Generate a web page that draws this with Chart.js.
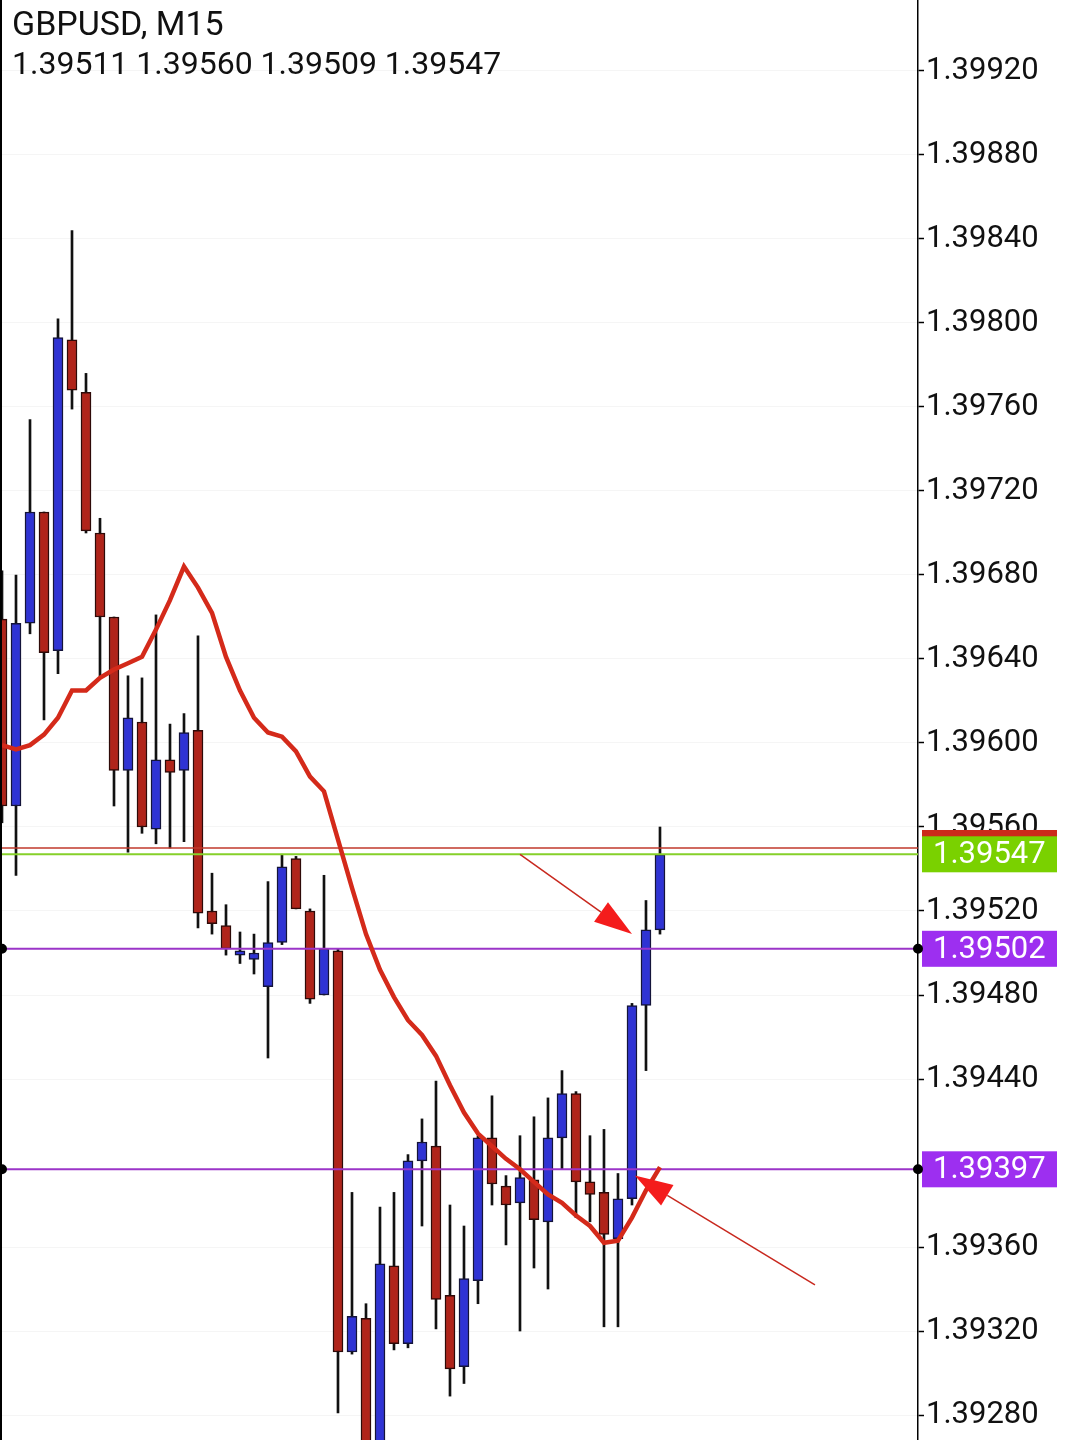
<!DOCTYPE html>
<html>
<head>
<meta charset="utf-8">
<script src="https://cdn.jsdelivr.net/npm/chart.js@4.4.0/dist/chart.umd.min.js"></script>
<style>
  html, body { margin: 0; padding: 0; background: #fff; }
</style>
</head>
<body>
<canvas id="myChart" width="1080" height="1440"></canvas>
<script>
// GBPUSD M15 candles, oldest first
var opens  = [1.39659, 1.39570, 1.39657, 1.39710, 1.39644, 1.39792, 1.39767, 1.39700, 1.39660, 1.39587,
              1.39610, 1.39559, 1.39592, 1.39587, 1.39606, 1.39520, 1.39513, 1.39499, 1.39497, 1.39484,
              1.39505, 1.39545, 1.39520, 1.39480, 1.39501, 1.39310, 1.39326, 1.39250, 1.39351, 1.39314,
              1.39401, 1.39408, 1.39337, 1.39303, 1.39344, 1.39412, 1.39389, 1.39381, 1.39392, 1.39372,
              1.39412, 1.39433, 1.39391, 1.39386, 1.39364, 1.39383, 1.39475, 1.39511];
var highs  = [1.39682, 1.39680, 1.39754, 1.39710, 1.39802, 1.39844, 1.39776, 1.39707, 1.39660, 1.39632,
              1.39631, 1.39661, 1.39609, 1.39614, 1.39651, 1.39538, 1.39523, 1.39510, 1.39509, 1.39534,
              1.39547, 1.39546, 1.39521, 1.39537, 1.39502, 1.39386, 1.39333, 1.39379, 1.39386, 1.39404,
              1.39421, 1.39439, 1.39380, 1.39370, 1.39413, 1.39432, 1.39394, 1.39413, 1.39422, 1.39431,
              1.39444, 1.39434, 1.39413, 1.39416, 1.39395, 1.39476, 1.39525, 1.39560];
var lows   = [1.39562, 1.39537, 1.39652, 1.39611, 1.39633, 1.39759, 1.39700, 1.39632, 1.39570, 1.39548,
              1.39557, 1.39552, 1.39550, 1.39553, 1.39512, 1.39509, 1.39499, 1.39495, 1.39490, 1.39450,
              1.39504, 1.39521, 1.39476, 1.39480, 1.39281, 1.39309, 1.39245, 1.39240, 1.39311, 1.39312,
              1.39370, 1.39321, 1.39289, 1.39295, 1.39333, 1.39380, 1.39361, 1.39320, 1.39350, 1.39340,
              1.39397, 1.39374, 1.39372, 1.39322, 1.39322, 1.39380, 1.39444, 1.39509];
var closes = [1.39570, 1.39657, 1.39710, 1.39643, 1.39793, 1.39768, 1.39701, 1.39660, 1.39587, 1.39612,
              1.39560, 1.39592, 1.39586, 1.39605, 1.39519, 1.39514, 1.39502, 1.39501, 1.39500, 1.39505,
              1.39541, 1.39521, 1.39478, 1.39502, 1.39310, 1.39327, 1.39255, 1.39352, 1.39314, 1.39401,
              1.39410, 1.39335, 1.39302, 1.39345, 1.39412, 1.39390, 1.39380, 1.39393, 1.39373, 1.39412,
              1.39433, 1.39391, 1.39385, 1.39366, 1.39383, 1.39475, 1.39511, 1.39547];

// moving average (red line)
var maValues = [1.39599, 1.39597, 1.39599, 1.39604, 1.39612, 1.39625, 1.39625, 1.39631, 1.39635, 1.39638,
                1.39641, 1.39654, 1.39668, 1.39684, 1.39674, 1.39662, 1.39641, 1.39625, 1.39612, 1.39605,
                1.39603, 1.39596, 1.39584, 1.39577, 1.39554, 1.39531, 1.39509, 1.39492, 1.39479, 1.39468,
                1.39461, 1.39451, 1.39437, 1.39424, 1.39414, 1.39408, 1.39402, 1.39397, 1.39391, 1.39385,
                1.39381, 1.39375, 1.39370, 1.39362, 1.39363, 1.39374, 1.39387, 1.39398];

// horizontal levels: ask, bid, two drawn levels
var levelPrices = [1.39550, 1.39547, 1.39502, 1.39397];
var levelColors = ["#c0392b", "#86d02a", "#9b35c8", "#9b35c8"];
var tagColors   = ["#cc2a1a", "#7ad100", "#9d2ff0", "#9d2ff0"];
var tagTexts    = ["", "1.39547", "1.39502", "1.39397"];
var levelDots   = [false, false, true, true];

// arrows [candle index, price]
var arrowStarts = [[37, 1.39547], [58.07, 1.39342]];
var arrowEnds   = [[45.0, 1.39509], [45.2, 1.39394]];

// 1.39400 is hidden under the 1.39397 tag
var tickValues = [1.39280, 1.39320, 1.39360, 1.39440, 1.39480, 1.39520, 1.39560,
                  1.39600, 1.39640, 1.39680, 1.39720, 1.39760, 1.39800, 1.39840, 1.39880, 1.39920];

var headerLines = ["GBPUSD, M15", "1.39511 1.39560 1.39509 1.39547"];

var xMin = -0.143, xMax = 65.43;
var yMin = 1.392681, yMax = 1.399538;

var wickData = [], bodyData = [], bodyColors = [], bodyBorders = [], maData = [];
for (var i = 0; i < opens.length; i++) {
    wickData.push({x: i, y: [lows[i], highs[i]]});
    bodyData.push({x: i, y: [Math.min(opens[i], closes[i]), Math.max(opens[i], closes[i])]});
    var up = closes[i] >= opens[i];
    bodyColors.push(up ? "#2f33d4" : "#b0241a");
    bodyBorders.push(up ? "#14143a" : "#2e0a08");
    maData.push({x: i, y: maValues[i]});
}

var datasets = [
    {
        type: "line",
        data: maData,
        borderColor: "#d42a1a",
        borderWidth: 4.5,
        pointRadius: 0,
        tension: 0,
        order: 0
    }
];
levelPrices.forEach(function (p, k) {
    datasets.push({
        type: "line",
        data: [{x: xMin, y: p}, {x: xMax, y: p}],
        borderColor: levelColors[k],
        borderWidth: k == 0 ? 1.5 : 2,
        pointRadius: 0,
        order: 1
    });
});
datasets.push({
    type: "bar",
    data: bodyData,
    backgroundColor: bodyColors,
    borderColor: bodyBorders,
    borderWidth: 1.5,
    borderSkipped: false,
    barThickness: 10,
    grouped: false,
    order: 2
});
datasets.push({
    type: "bar",
    data: wickData,
    backgroundColor: "#111111",
    borderWidth: 0,
    barThickness: 2,
    grouped: false,
    order: 3
});

function drawArrow(ctx, x1, y1, x2, y2) {
    var ang = Math.atan2(y2 - y1, x2 - x1);
    var headLen = 38, headHalf = 12;
    var bx = x2 - headLen * Math.cos(ang), by = y2 - headLen * Math.sin(ang);
    ctx.strokeStyle = "#c8281e";
    ctx.lineWidth = 1.5;
    ctx.beginPath();
    ctx.moveTo(x1, y1);
    ctx.lineTo(bx, by);
    ctx.stroke();
    ctx.fillStyle = "#f41c1c";
    ctx.beginPath();
    ctx.moveTo(x2, y2);
    ctx.lineTo(bx + headHalf * Math.sin(ang), by - headHalf * Math.cos(ang));
    ctx.lineTo(bx - headHalf * Math.sin(ang), by + headHalf * Math.cos(ang));
    ctx.closePath();
    ctx.fill();
}

var overlay = {
    id: "overlay",
    afterDraw: function (chart) {
        var ctx = chart.ctx, xs = chart.scales.x, ys = chart.scales.y, area = chart.chartArea;
        ctx.save();

        // left border
        ctx.fillStyle = "#000";
        ctx.fillRect(0, 0, 2, chart.height);

        // arrows
        for (var a = 0; a < arrowStarts.length; a++) {
            drawArrow(ctx,
                xs.getPixelForValue(arrowStarts[a][0]), ys.getPixelForValue(arrowStarts[a][1]),
                xs.getPixelForValue(arrowEnds[a][0]), ys.getPixelForValue(arrowEnds[a][1]));
        }

        // price tags on the axis
        ctx.font = "31px Roboto";
        ctx.textBaseline = "middle";
        ctx.textAlign = "left";
        levelPrices.forEach(function (p, k) {
            var y = ys.getPixelForValue(p);
            ctx.fillStyle = tagColors[k];
            ctx.fillRect(area.right + 4, y - 18, 135, 36);
            if (tagTexts[k]) {
                ctx.fillStyle = "#fff";
                ctx.fillText(tagTexts[k], area.right + 15, y + 1);
            }
            if (levelDots[k]) {
                ctx.fillStyle = "#000";
                ctx.beginPath();
                ctx.arc(area.left + 2, y, 5, 0, Math.PI * 2);
                ctx.arc(area.right, y, 5, 0, Math.PI * 2);
                ctx.fill();
            }
        });

        // header
        ctx.fillStyle = "#111";
        ctx.textBaseline = "alphabetic";
        ctx.font = "34px Roboto";
        ctx.fillText(headerLines[0], 12, 35);
        ctx.font = "32px Roboto";
        ctx.fillText(headerLines[1], 12, 74);
        ctx.restore();
    }
};

var ctx = document.getElementById("myChart").getContext("2d");
var chart = new Chart(ctx, {
    type: "bar",
    data: {datasets: datasets},
    options: {
        responsive: false,
        animation: false,
        devicePixelRatio: 1,
        layout: {padding: 0},
        plugins: {
            legend: {display: false},
            tooltip: {enabled: false}
        },
        scales: {
            x: {
                type: "linear",
                min: xMin,
                max: xMax,
                offset: false,
                display: false
            },
            y: {
                position: "right",
                min: yMin,
                max: yMax,
                afterBuildTicks: function (s) {
                    s.ticks = tickValues.map(function (v) { return {value: v}; });
                },
                afterFit: function (s) {
                    s.width = 162;
                    s.paddingTop = 0;
                    s.paddingBottom = 0;
                },
                ticks: {
                    font: {family: "Roboto", size: 31},
                    color: "#111",
                    padding: 2,
                    callback: function (v) { return v.toFixed(5); }
                },
                grid: {
                    color: "rgba(0,0,0,0.04)",
                    tickColor: "#000",
                    tickLength: 6,
                    tickWidth: 1.5
                },
                border: {color: "#000", width: 1.5}
            }
        }
    },
    plugins: [overlay]
});
</script>
</body>
</html>
